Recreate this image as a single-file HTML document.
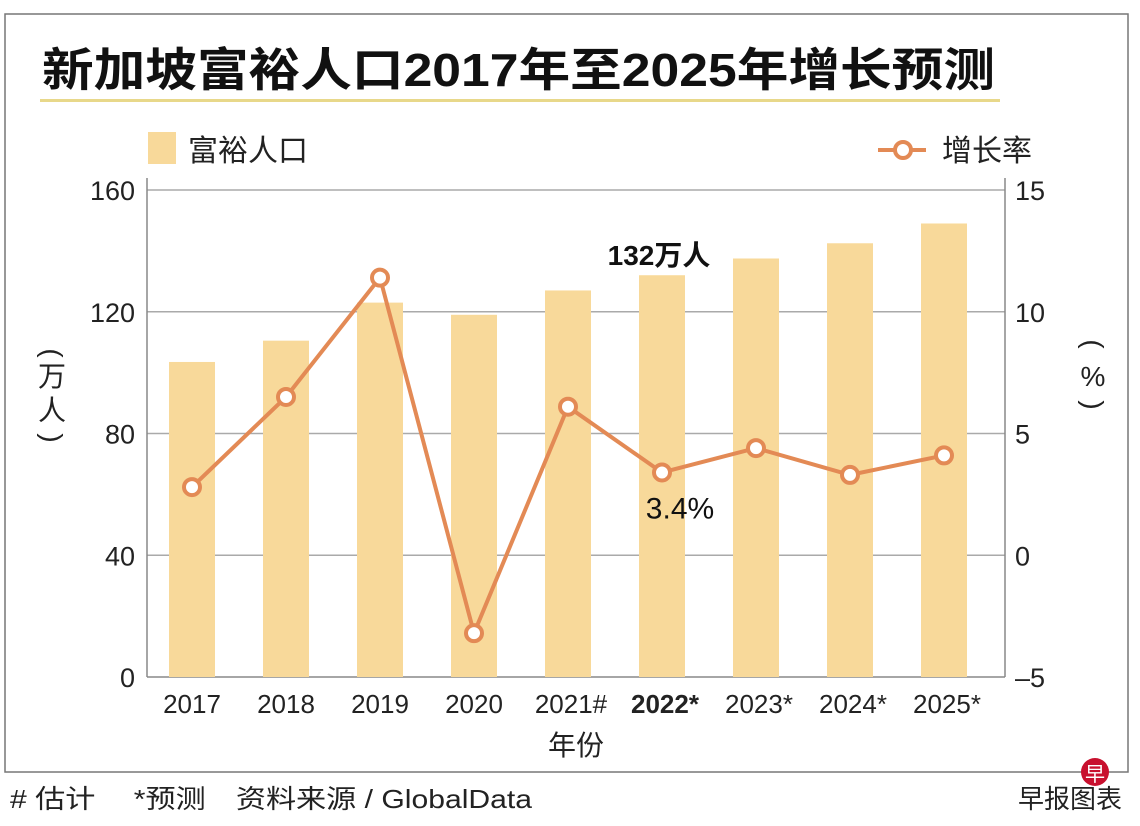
<!DOCTYPE html>
<html><head><meta charset="utf-8"><style>
body{margin:0;background:#fff;width:1140px;height:826px;overflow:hidden}
svg{display:block;font-family:"Liberation Sans","Noto Sans CJK SC",sans-serif}
</style></head><body>
<svg id="c" width="1140" height="826" viewBox="0 0 1140 826">
<rect x="5" y="14" width="1123" height="758" fill="none" stroke="#777" stroke-width="1.5"/>
<text x="42" y="86" font-size="46" font-weight="bold" fill="#111" textLength="953" lengthAdjust="spacingAndGlyphs">新加坡富裕人口2017年至2025年增长预测</text>
<rect x="40" y="99" width="960" height="3" fill="#e8d88a"/>
<g><rect x="148" y="132" width="28" height="32" fill="#f8d99a"/><text x="188" y="161" font-size="30" fill="#222">富裕人口</text></g>
<g><line x1="878" y1="150" x2="926" y2="150" stroke="#e38a55" stroke-width="4"/><circle cx="903" cy="150" r="8" fill="#fff" stroke="#e38a55" stroke-width="4"/><text x="942" y="161" font-size="30" fill="#222">增长率</text></g>
<g font-size="28" fill="#222" text-anchor="middle">
<text transform="translate(52,353) rotate(90)" y="9">(</text>
<text x="52" y="386">万</text>
<text x="52" y="420">人</text>
<text transform="translate(52,438) rotate(90)" y="9">)</text>
</g>
<g font-size="28" fill="#222" text-anchor="middle">
<text transform="translate(1093,344) rotate(90)" y="9">(</text>
<text x="1093" y="386">%</text>
<text transform="translate(1093,405) rotate(90)" y="9">)</text>
</g>
<text x="576" y="755" font-size="28" fill="#222" text-anchor="middle">年份</text>
<text x="10" y="808" font-size="26" fill="#222" textLength="522" lengthAdjust="spacingAndGlyphs"># 估计　 *预测　资料来源 / GlobalData</text>
<text x="1122" y="808" font-size="26" fill="#222" text-anchor="end">早报图表</text>
<g><circle cx="1095" cy="772" r="14" fill="#c8102e"/><text x="1095" y="781" font-size="20" fill="#fff" text-anchor="middle">早</text></g>
<g id="plot"></g>
</svg>
<script>
const categories=["2017","2018","2019","2020","2021#","2022*","2023*","2024*","2025*"];
const population=[103.5,110.5,123,119,127,132,137.5,142.5,149];
const growth=[2.8,6.5,11.4,-3.2,6.1,3.4,4.4,3.3,4.1];
const leftTicks=[0,40,80,120,160];
const rightTicks=[-5,0,5,10,15];
const NS="http://www.w3.org/2000/svg";
const L=147,R=1005,T=190,B=677;
const yL=v=>B-(v/160)*(B-T);
const yR=v=>B-((v+5)/20)*(B-T);
const x0=192,x1=944;
const xC=i=>x0+(x1-x0)*i/(categories.length-1);
const g=document.getElementById('plot');
function mk(t,a,txt){const e=document.createElementNS(NS,t);for(const k in a)e.setAttribute(k,a[k]);if(txt!=null)e.textContent=txt;g.appendChild(e);return e;}
leftTicks.forEach((v,i)=>{
 const l=mk('line',{x1:L,x2:R,y1:yL(v),y2:yL(v),stroke:v===0?'#888':'#aaa','stroke-width':1.5});
 
 
 const t=mk('text',{x:L-12,y:yL(v)+10,'font-size':27,fill:'#222','text-anchor':'end'},v);
 
 
});
rightTicks.forEach(v=>{
 const t=mk('text',{x:R+10,y:yR(v)+10,'font-size':27,fill:'#222'},v<0?'–'+(-v):v);
 
 
});
[L,R].forEach(x=>{const a=mk('line',{x1:x,x2:x,y1:T-12,y2:B,stroke:'#888','stroke-width':1.5});
 
 });
population.forEach((v,i)=>{
 const b=mk('rect',{x:xC(i)-23,y:yL(v),width:46,height:B-yL(v),fill:'#f8d99a'});
 
 
 const t=mk('text',{x:xC(i)+(categories[i].length>4?3:0),y:713,'font-size':26,fill:'#222','text-anchor':'middle','font-weight':i===5?'bold':'normal'},categories[i]);
 
 
});
const ln=mk('polyline',{points:growth.map((v,i)=>xC(i)+','+yR(v)).join(' '),fill:'none',stroke:'#e38a55','stroke-width':4});


growth.forEach((v,i)=>{
 const c=mk('circle',{cx:xC(i),cy:yR(v),r:8,fill:'#fff',stroke:'#e38a55','stroke-width':4});
 
 
});
const a1=mk('text',{x:xC(5)-3,y:yL(population[5])-10,'font-size':28,'font-weight':'bold',fill:'#111','text-anchor':'middle'},population[5]+'万人');


const a2=mk('text',{x:xC(5)+18,y:yR(growth[5])+46,'font-size':30,fill:'#111','text-anchor':'middle'},growth[5]+'%');


</script>
</body></html>
